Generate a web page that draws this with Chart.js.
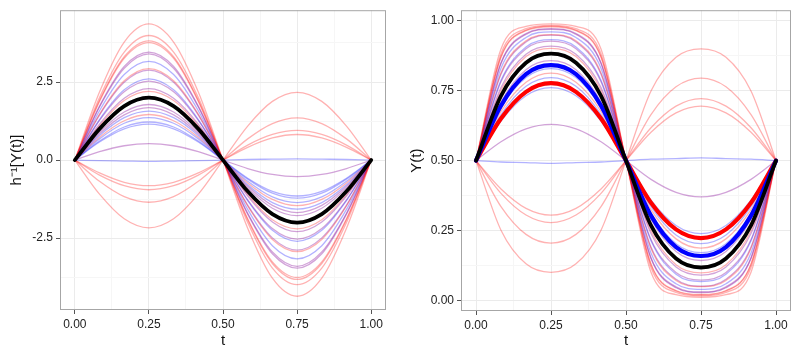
<!DOCTYPE html>
<html>
<head>
<meta charset="utf-8">
<script src="https://cdn.jsdelivr.net/npm/chart.js@4.4.1/dist/chart.umd.min.js"></script>
<style>
  body { margin: 0; background: #fff; }
  .panel { position: absolute; top: 0; width: 400px; height: 350px; }
</style>
</head>
<body>
<div class="panel" style="left:0"><canvas id="left-chart" width="400" height="350"></canvas></div>
<div class="panel" style="left:400px"><canvas id="right-chart" width="400" height="350"></canvas></div>
<script>
// sample times along t
const tValues = [0, 0.0833, 0.1667, 0.25, 0.3333, 0.4167, 0.5, 0.5833, 0.6667, 0.75, 0.8333, 0.9167, 1];
const xTicks = [0, 0.125, 0.25, 0.375, 0.5, 0.625, 0.75, 0.875, 1];
const leftYTicks = [-3.75, -2.5, -1.25, 0, 1.25, 2.5, 3.75];
const rightYTicks = [0, 0.125, 0.25, 0.375, 0.5, 0.625, 0.75, 0.875, 1];

// colour group of each thin curve
const curveGroups = ['red', 'red', 'red', 'red', 'purple', 'purple', 'blue', 'red', 'purple', 'blue',
  'purple', 'purple', 'red', 'black', 'purple', 'purple', 'blue', 'red', 'blue', 'blue',
  'blue', 'purple', 'blue', 'red', 'red', 'red', 'red'];

// h^-1[Y(t)] curves (left panel)
const leftCurves = [
  [0, 2.18, 3.78, 4.36, 3.78, 2.18, 0, -2.18, -3.78, -4.36, -3.78, -2.18, 0],
  [0, 2.00, 3.46, 3.99, 3.46, 2.00, 0, -2.00, -3.46, -3.99, -3.46, -2.00, 0],
  [0, 1.91, 3.31, 3.82, 3.31, 1.91, 0, -1.91, -3.31, -3.82, -3.31, -1.91, 0],
  [0, 1.88, 3.26, 3.76, 3.26, 1.88, 0, -1.88, -3.26, -3.76, -3.26, -1.88, 0],
  [0, 1.73, 3.00, 3.46, 3.00, 1.73, 0, -1.73, -3.00, -3.46, -3.00, -1.73, 0],
  [0, 1.70, 2.94, 3.40, 2.94, 1.70, 0, -1.70, -2.94, -3.40, -2.94, -1.70, 0],
  [0, 1.58, 2.74, 3.16, 2.74, 1.58, 0, -1.58, -2.74, -3.16, -2.74, -1.58, 0],
  [0, 1.47, 2.54, 2.93, 2.54, 1.47, 0, -1.47, -2.54, -2.93, -2.54, -1.47, 0],
  [0, 1.44, 2.49, 2.88, 2.49, 1.44, 0, -1.44, -2.49, -2.88, -2.49, -1.44, 0],
  [0, 1.30, 2.25, 2.60, 2.25, 1.30, 0, -1.30, -2.25, -2.60, -2.25, -1.30, 0],
  [0, 1.27, 2.19, 2.53, 2.19, 1.27, 0, -1.27, -2.19, -2.53, -2.19, -1.27, 0],
  [0, 1.15, 1.98, 2.29, 1.98, 1.15, 0, -1.15, -1.98, -2.29, -1.98, -1.15, 0],
  [0, 1.10, 1.91, 2.20, 1.91, 1.10, 0, -1.10, -1.91, -2.20, -1.91, -1.10, 0],
  [0, 1.00, 1.73, 2.00, 1.73, 1.00, 0, -1.00, -1.73, -2.00, -1.73, -1.00, 0],
  [0, 0.89, 1.54, 1.78, 1.54, 0.89, 0, -0.89, -1.54, -1.78, -1.54, -0.89, 0],
  [0, 0.84, 1.45, 1.68, 1.45, 0.84, 0, -0.84, -1.45, -1.68, -1.45, -0.84, 0],
  [0, 0.79, 1.36, 1.57, 1.36, 0.79, 0, -0.79, -1.36, -1.57, -1.36, -0.79, 0],
  [0, 0.73, 1.26, 1.46, 1.26, 0.73, 0, -0.73, -1.26, -1.46, -1.26, -0.73, 0],
  [0, 0.68, 1.18, 1.36, 1.18, 0.68, 0, -0.68, -1.18, -1.36, -1.18, -0.68, 0],
  [0, 0.61, 1.06, 1.22, 1.06, 0.61, 0, -0.61, -1.06, -1.22, -1.06, -0.61, 0],
  [0, 0.58, 1.00, 1.15, 1.00, 0.58, 0, -0.58, -1.00, -1.15, -1.00, -0.58, 0],
  [0, 0.27, 0.46, 0.53, 0.46, 0.27, 0, -0.27, -0.46, -0.53, -0.46, -0.27, 0],
  [0, -0.02, -0.03, -0.04, -0.03, -0.02, 0, 0.02, 0.03, 0.04, 0.03, 0.02, 0],
  [0, -0.41, -0.71, -0.82, -0.71, -0.41, 0, 0.41, 0.71, 0.82, 0.71, 0.41, 0],
  [0, -0.48, -0.82, -0.95, -0.82, -0.48, 0, 0.48, 0.82, 0.95, 0.82, 0.48, 0],
  [0, -0.68, -1.17, -1.35, -1.17, -0.68, 0, 0.68, 1.17, 1.35, 1.17, 0.68, 0],
  [0, -1.09, -1.88, -2.17, -1.88, -1.09, 0, 1.09, 1.88, 2.17, 1.88, 1.09, 0]
];

// Y(t) curves (right panel), same order
const rightCurves = [
  [0.5, 0.898, 0.978, 0.987, 0.978, 0.898, 0.5, 0.102, 0.022, 0.013, 0.022, 0.102, 0.5],
  [0.5, 0.881, 0.970, 0.982, 0.970, 0.881, 0.5, 0.119, 0.030, 0.018, 0.030, 0.119, 0.5],
  [0.5, 0.871, 0.965, 0.979, 0.965, 0.871, 0.5, 0.129, 0.035, 0.021, 0.035, 0.129, 0.5],
  [0.5, 0.868, 0.963, 0.977, 0.963, 0.868, 0.5, 0.132, 0.037, 0.023, 0.037, 0.132, 0.5],
  [0.5, 0.849, 0.953, 0.970, 0.953, 0.849, 0.5, 0.151, 0.047, 0.030, 0.047, 0.151, 0.5],
  [0.5, 0.846, 0.950, 0.968, 0.950, 0.846, 0.5, 0.154, 0.050, 0.032, 0.050, 0.154, 0.5],
  [0.5, 0.829, 0.939, 0.959, 0.939, 0.829, 0.5, 0.171, 0.061, 0.041, 0.061, 0.171, 0.5],
  [0.5, 0.813, 0.927, 0.949, 0.927, 0.813, 0.5, 0.187, 0.073, 0.051, 0.073, 0.187, 0.5],
  [0.5, 0.808, 0.923, 0.947, 0.923, 0.808, 0.5, 0.192, 0.077, 0.053, 0.077, 0.192, 0.5],
  [0.5, 0.786, 0.905, 0.931, 0.905, 0.786, 0.5, 0.214, 0.095, 0.069, 0.095, 0.214, 0.5],
  [0.5, 0.781, 0.899, 0.926, 0.899, 0.781, 0.5, 0.219, 0.101, 0.074, 0.101, 0.219, 0.5],
  [0.5, 0.760, 0.879, 0.908, 0.879, 0.760, 0.5, 0.240, 0.121, 0.092, 0.121, 0.240, 0.5],
  [0.5, 0.750, 0.871, 0.900, 0.871, 0.750, 0.5, 0.250, 0.129, 0.100, 0.129, 0.250, 0.5],
  [0.5, 0.731, 0.849, 0.881, 0.849, 0.731, 0.5, 0.269, 0.151, 0.119, 0.151, 0.269, 0.5],
  [0.5, 0.709, 0.824, 0.856, 0.824, 0.709, 0.5, 0.291, 0.176, 0.144, 0.176, 0.291, 0.5],
  [0.5, 0.698, 0.810, 0.843, 0.810, 0.698, 0.5, 0.302, 0.190, 0.157, 0.190, 0.302, 0.5],
  [0.5, 0.688, 0.796, 0.828, 0.796, 0.688, 0.5, 0.312, 0.204, 0.172, 0.204, 0.312, 0.5],
  [0.5, 0.675, 0.779, 0.812, 0.779, 0.675, 0.5, 0.325, 0.221, 0.188, 0.221, 0.325, 0.5],
  [0.5, 0.664, 0.765, 0.796, 0.765, 0.664, 0.5, 0.336, 0.235, 0.204, 0.235, 0.336, 0.5],
  [0.5, 0.648, 0.743, 0.772, 0.743, 0.648, 0.5, 0.352, 0.257, 0.228, 0.257, 0.352, 0.5],
  [0.5, 0.641, 0.731, 0.760, 0.731, 0.641, 0.5, 0.359, 0.269, 0.240, 0.269, 0.359, 0.5],
  [0.5, 0.567, 0.613, 0.629, 0.613, 0.567, 0.5, 0.433, 0.387, 0.371, 0.387, 0.433, 0.5],
  [0.5, 0.495, 0.493, 0.490, 0.493, 0.495, 0.5, 0.505, 0.507, 0.510, 0.507, 0.505, 0.5],
  [0.5, 0.399, 0.330, 0.306, 0.330, 0.399, 0.5, 0.601, 0.670, 0.694, 0.670, 0.601, 0.5],
  [0.5, 0.383, 0.306, 0.279, 0.306, 0.383, 0.5, 0.617, 0.694, 0.721, 0.694, 0.617, 0.5],
  [0.5, 0.336, 0.237, 0.206, 0.237, 0.336, 0.5, 0.664, 0.763, 0.794, 0.763, 0.664, 0.5],
  [0.5, 0.252, 0.132, 0.102, 0.132, 0.252, 0.5, 0.748, 0.868, 0.898, 0.868, 0.748, 0.5]
];

// the two heavy summary curves on the right
const rightBlueCurve = [0.5, 0.696, 0.808, 0.840, 0.808, 0.696, 0.5, 0.304, 0.192, 0.160, 0.192, 0.304, 0.5];
const rightRedCurve = [0.5, 0.650, 0.745, 0.776, 0.745, 0.650, 0.5, 0.350, 0.255, 0.224, 0.255, 0.350, 0.5];

const groupColors = {
  red: 'rgba(255, 0, 0, 0.3)',
  purple: 'rgba(130, 0, 150, 0.36)',
  blue: 'rgba(0, 0, 255, 0.3)',
  black: '#000'
};

function toPoints(values) {
  return values.map((y, i) => ({ x: tValues[i], y: y }));
}

function isMajor(v, step) {
  return Math.abs(v / step - Math.round(v / step)) < 1e-6;
}

// draws the grey panel border like ggplot's theme_bw
const panelBorder = {
  id: 'panelBorder',
  afterDraw(chart) {
    const a = chart.chartArea;
    const ctx = chart.ctx;
    ctx.save();
    ctx.strokeStyle = '#a6a6a6';
    ctx.lineWidth = 1;
    ctx.strokeRect(a.left + 0.5, a.top + 0.5, a.right - a.left - 1, a.bottom - a.top - 1);
    ctx.restore();
  }
};

function makeChart(id, datasets, opts) {
  const ctx = document.getElementById(id).getContext('2d');
  return new Chart(ctx, {
    type: 'line',
    data: { datasets: datasets },
    options: {
      responsive: false,
      animation: false,
      events: [],
      layout: { padding: opts.padding },
      plugins: { legend: { display: false }, tooltip: { enabled: false } },
      elements: { point: { radius: 0 }, line: { cubicInterpolationMode: 'monotone', borderCapStyle: 'round' } },
      scales: {
        x: {
          type: 'linear',
          min: -0.05,
          max: 1.05,
          afterBuildTicks: s => { s.ticks = xTicks.map(v => ({ value: v })); },
          afterFit: s => { s.height = opts.xHeight; },
          border: { display: false },
          grid: {
            color: c => isMajor(c.tick.value, 0.25) ? '#ebebeb' : '#f6f6f6',
            tickColor: c => isMajor(c.tick.value, 0.25) ? '#555' : 'rgba(0,0,0,0)',
            tickLength: 4
          },
          ticks: {
            autoSkip: false,
            maxRotation: 0,
            padding: 3,
            color: '#222',
            font: { family: 'Liberation Sans', size: 12 },
            callback: v => isMajor(v, 0.25) ? v.toFixed(2) : ''
          },
          title: { display: true, text: 't', color: '#111', padding: { top: 0, bottom: 0 }, font: { family: 'Liberation Sans', size: 15 } }
        },
        y: {
          type: 'linear',
          min: opts.yMin,
          max: opts.yMax,
          afterBuildTicks: s => { s.ticks = opts.yTicks.map(v => ({ value: v })); },
          afterFit: s => { s.width = opts.yWidth; },
          border: { display: false },
          grid: {
            color: c => isMajor(c.tick.value, opts.yMajor) ? '#ebebeb' : '#f6f6f6',
            tickColor: c => isMajor(c.tick.value, opts.yMajor) ? '#555' : 'rgba(0,0,0,0)',
            tickLength: 4
          },
          ticks: {
            autoSkip: false,
            padding: 3,
            color: '#222',
            font: { family: 'Liberation Sans', size: 12 },
            callback: v => isMajor(v, opts.yMajor) ? v.toFixed(opts.yDigits) : ''
          },
          title: { display: true, text: opts.yTitle, color: '#111', padding: { top: 8, bottom: 0 }, font: { family: 'Liberation Sans', size: 15 } }
        }
      }
    },
    plugins: [panelBorder]
  });
}

// left panel datasets
const leftSets = leftCurves.map((vals, i) => ({
  data: toPoints(vals),
  borderColor: groupColors[curveGroups[i]],
  borderWidth: curveGroups[i] === 'black' ? 3.8 : 1.3,
  order: curveGroups[i] === 'black' ? 0 : 1
}));

makeChart('left-chart', leftSets, {
  padding: { left: 0, right: 14, top: 8, bottom: 0 },
  xHeight: 40, yWidth: 60,
  yMin: -4.8, yMax: 4.8, yTicks: leftYTicks, yMajor: 2.5, yDigits: 1,
  yTitle: 'h\u207B\u00B9[Y(t)]'
});

// right panel datasets
const rightSets = rightCurves.map((vals, i) => ({
  data: toPoints(vals),
  borderColor: groupColors[curveGroups[i]],
  borderWidth: curveGroups[i] === 'black' ? 3.8 : 1.3,
  order: curveGroups[i] === 'black' ? 0 : 2
}));
rightSets.push({ data: toPoints(rightBlueCurve), borderColor: '#0000ff', borderWidth: 4.2, order: 1 });
rightSets.push({ data: toPoints(rightRedCurve), borderColor: '#ff0000', borderWidth: 4.2, order: 1 });

makeChart('right-chart', rightSets, {
  padding: { left: 0, right: 9, top: 8, bottom: 0 },
  xHeight: 39, yWidth: 61,
  yMin: -0.036, yMax: 1.036, yTicks: rightYTicks, yMajor: 0.25, yDigits: 2,
  yTitle: 'Y(t)'
});
</script>
</body>
</html>
